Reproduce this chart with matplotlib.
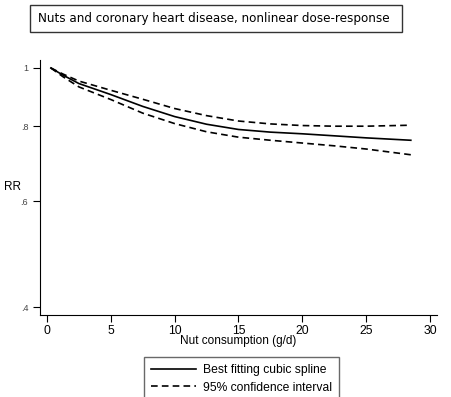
import numpy as np
import matplotlib
matplotlib.use("Agg")
import matplotlib.pyplot as plt
from matplotlib.patches import Rectangle
from matplotlib.ticker import FixedLocator, NullLocator

# nut consumption (g/d) and relative risk
nuts = [0.3, 1.25, 2.5, 5, 7.5, 10, 12.5, 15, 17.5, 20, 22.5, 25, 28.5]
rr_fit = [1.0, 0.973, 0.942, 0.903, 0.863, 0.830, 0.806, 0.790, 0.782, 0.777, 0.771, 0.765, 0.758]
rr_upper = [1.0, 0.977, 0.951, 0.918, 0.887, 0.856, 0.833, 0.816, 0.807, 0.802, 0.800, 0.800, 0.803]
rr_lower = [1.0, 0.967, 0.930, 0.886, 0.841, 0.808, 0.783, 0.767, 0.758, 0.750, 0.742, 0.733, 0.717]

yticks = [0.4, 0.6, 0.8, 1.0]
ytick_labels = ['.4', '.6', '.8', '1']
xticks = [0, 5, 10, 15, 20, 25, 30]

fig = plt.figure(figsize=(4.52, 3.97), dpi=100)
ax = fig.add_axes([40/452, 1-315/397, 397/452, 255/397])

ax.plot(nuts, rr_fit, color='black', lw=1.2, label='Best fitting cubic spline')
ax.plot(nuts, rr_upper, color='black', lw=1.2, ls=(0, (4, 2.5)), label='95% confidence interval')
ax.plot(nuts, rr_lower, color='black', lw=1.2, ls=(0, (4, 2.5)))

ax.set_yscale('log')
ax.set_ylim(0.388, 1.031)
ax.set_xlim(-0.55, 30.55)
ax.yaxis.set_major_locator(FixedLocator(yticks))
ax.yaxis.set_minor_locator(NullLocator())
ax.set_yticklabels(ytick_labels, fontsize=6.5, color='#444444', family='Liberation Sans')
ax.set_xticks(xticks)
ax.set_xticklabels([str(t) for t in xticks], fontsize=8.8, family='Liberation Sans')
ax.tick_params(axis='both', length=5, width=0.8)
ax.tick_params(axis='x', pad=2)

for s in ['top', 'right']:
    ax.spines[s].set_visible(False)

ax.set_xlabel('Nut consumption (g/d)', fontsize=8.5, family='Liberation Sans', labelpad=-1)
ax.set_ylabel('RR', fontsize=8.5, family='Liberation Sans', rotation=0, labelpad=6, va='center')

# title in a box
fig.patches.append(Rectangle((30/452, 1-32/397), 372/452, 27/397, transform=fig.transFigure,
                             fc='white', ec='#333333', lw=1))
fig.text(214/452, 1-18.5/397, 'Nuts and coronary heart disease, nonlinear dose-response',
         ha='center', va='center', fontsize=9.5, family='DejaVu Sans', fontstretch='condensed')

fig.legend(loc='upper left', bbox_to_anchor=(144/452, 1-357/397), frameon=True,
           fancybox=False, edgecolor='#444444', handlelength=3.7, handletextpad=0.6,
           borderaxespad=0, prop={'family': 'Liberation Sans', 'size': 8.7},
           borderpad=0.6, labelspacing=0.45)

fig.savefig('out.png', dpi=100)
